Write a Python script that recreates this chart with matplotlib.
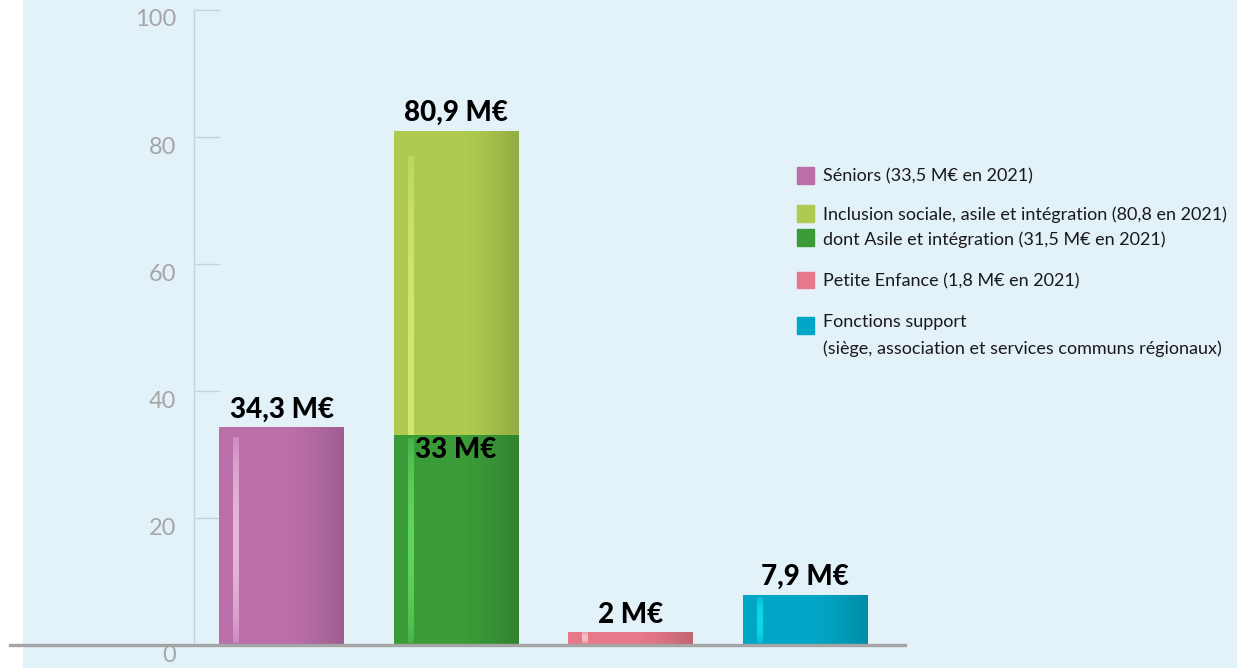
import numpy as np
import matplotlib
matplotlib.use("Agg")
import matplotlib.pyplot as plt
from matplotlib.patches import Rectangle
from matplotlib.colors import to_rgb

# Data
categories = ["Séniors", "Inclusion sociale, asile et intégration",
              "Petite Enfance", "Fonctions support"]
values = [34.3, 80.9, 2.0, 7.9]
value_labels = ["34,3 M€", "80,9 M€", "2 M€", "7,9 M€"]
asile_value = 33.0
asile_label = "33 M€"
yticks = [0, 20, 40, 60, 80, 100]

legend_labels = [
    "Séniors (33,5 M€ en 2021)",
    "Inclusion sociale, asile et intégration (80,8 en 2021)",
    "dont Asile et intégration (31,5 M€ en 2021)",
    "Petite Enfance (1,8 M€ en 2021)",
    "Fonctions support\n(siège, association et services communs régionaux)",
]

# Styles
bar_colors = ["#bb6fa9", "#aecb50", "#e67889", "#00a6c6"]
stripe_colors = ["#f2c6ea", "#dcef7c", "#fbd0da", "#10e6f2"]
asile_color = "#3a9b38"
asile_stripe = "#66e466"
legend_colors = ["#bb6fa9", "#aecb50", "#3a9b38", "#e67889", "#00a6c6"]
legend_rows = [175, 213, 238, 280, 325]  # pixel centres

W, H = 1237, 668
BG = "#e3f1f9"
LATO = ["Lato", "DejaVu Sans"]

fig = plt.figure(figsize=(W / 100, H / 100), dpi=100, facecolor="white")
fig.patches.append(Rectangle((23 / W, 0), 1, 1, transform=fig.transFigure,
                             color=BG, zorder=-5))

# axes: baseline spans px 10..905, y 0 at px 645, 100 at px 9.5
ax = fig.add_axes([10 / W, (H - 645) / H, 895 / W, (645 - 9.5) / H])
ax.set_facecolor("none")

step = 174.5  # px between bar centres
x = np.arange(len(values))
width = 125 / step
px = 1 / step  # one pixel in x data units
py = 100 / (645 - 9.5)  # one pixel in y data units


def shade_bar(rect, stripe, stripe_top):
    x0, y0 = rect.get_x(), rect.get_y()
    w, h = rect.get_width(), rect.get_height()
    # darker towards right edge
    t = np.linspace(0, 1, 200)
    grad = np.zeros((1, 200, 4))
    grad[..., 3] = np.clip((t - 0.55) / 0.45, 0, 1) ** 1.4 * 0.16
    im = ax.imshow(grad, extent=[x0, x0 + w, y0, y0 + h], aspect="auto",
                   zorder=rect.get_zorder() + 0.1, interpolation="bilinear")
    im.set_clip_path(rect)
    # light vertical stripe near left edge
    s = np.linspace(0, 1, 200)[:, None]
    col = np.zeros((200, 1, 4))
    col[..., :3] = to_rgb(stripe)
    col[..., 3] = (0.35 + 0.6 * np.sin(np.pi * s) ** 0.7) * 0.85
    sx = x0 + 14 * px
    ax.imshow(col, extent=[sx, sx + 6 * px, y0 + 2 * py, stripe_top],
              aspect="auto", zorder=rect.get_zorder() + 0.2,
              interpolation="bilinear")


bars = ax.bar(x, values, width=width, color=bar_colors, zorder=2)
asile = ax.bar(x[1], asile_value, width=width, color=asile_color, zorder=2.5)

for rect, v, sc in zip(bars, values, stripe_colors):
    shade_bar(rect, sc, v * 0.95)
shade_bar(asile[0], asile_stripe, asile_value - 0.5)

for xi, v, lab in zip(x, values, value_labels):
    ax.annotate(lab, (xi, v), xytext=(0, 7), textcoords="offset points",
                ha="center", va="baseline", fontsize=20, color="black",
                family=LATO, weight="black", zorder=5)
ax.annotate(asile_label, (x[1], asile_value), xytext=(0, -1),
            textcoords="offset points", ha="center", va="top", fontsize=20,
            color="black", family=LATO, weight="black", zorder=5)

ax.set_xlim((10 - 281.5) / step, (905 - 281.5) / step)
ax.set_ylim(0, 100)
ax.set_xticks([])

ax.spines["top"].set_visible(False)
ax.spines["right"].set_visible(False)
ax.spines["left"].set_position(("data", -0.5))
ax.spines["left"].set_bounds(0, 100)
ax.spines["left"].set_color("#c5d3da")
ax.spines["left"].set_linewidth(1)
ax.spines["bottom"].set_color("#a5a5a5")
ax.spines["bottom"].set_linewidth(2.4)
ax.spines["bottom"].set_zorder(3)

ax.set_yticks(yticks, [str(t) for t in yticks], va="top",
              family=LATO, fontweight="normal")
ax.tick_params(axis="y", direction="in", length=26 * 0.72, width=1,
               color="#c5d3da", labelsize=17, labelcolor="#a6a6a6", pad=13)

# legend
for lab, c, ry in zip(legend_labels, legend_colors, legend_rows):
    fig.patches.append(Rectangle((797 / W, (H - ry - 8.5) / H), 17 / W, 17 / H,
                                 transform=fig.transFigure, color=c, zorder=3))
    if "\n" in lab:
        fig.text(823 / W, (H - ry + 11) / H, lab, ha="left", va="top",
                 fontsize=13, color="#1a1a1a", family=LATO,
                 linespacing=1.75)
    else:
        fig.text(823 / W, (H - ry) / H, lab, ha="left",
                 va="center_baseline", fontsize=13, color="#1a1a1a",
                 family=LATO)

fig.savefig("out.png", dpi=100, facecolor="white")
